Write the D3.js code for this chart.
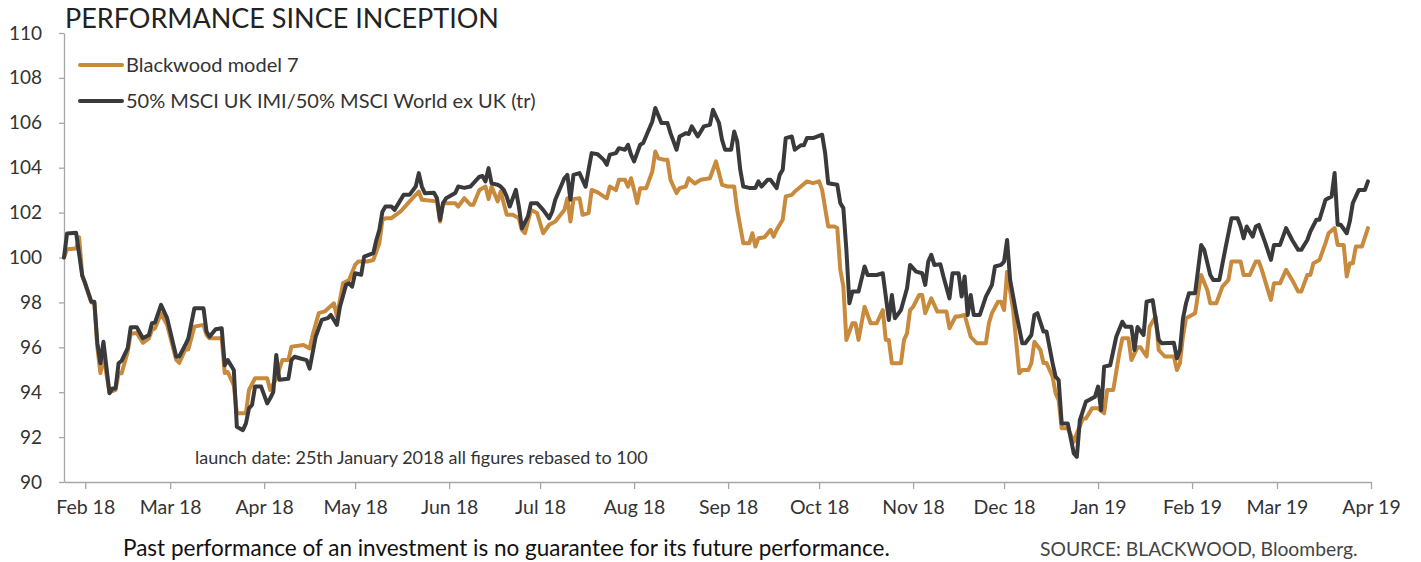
<!DOCTYPE html>
<html>
<head>
<meta charset="utf-8">
<script src="https://cdn.jsdelivr.net/npm/d3@7"></script>
<style>
  html, body { margin: 0; padding: 0; background: #fff; }
  svg { display: block; font-family: Lato, "Open Sans", sans-serif; }
</style>
</head>
<body>
<svg id="chart" width="1421" height="562"></svg>
<script>
const titleText = "PERFORMANCE SINCE INCEPTION";
const seriesNames = ["Blackwood model 7", "50% MSCI UK IMI/50% MSCI World ex UK (tr)"];
const launchDate = "2018-01-25";
const axisStart = "2018-01-25";
const axisEnd = "2019-04-01";
const yTicks = [90, 92, 94, 96, 98, 100, 102, 104, 106, 108, 110];
const noteText = "launch date: 25th January 2018 all figures rebased to 100";
const disclaimerText = "Past performance of an investment is no guarantee for its future performance.";
const sourceText = "SOURCE:  BLACKWOOD, Bloomberg.";

// days since launch, and value
const indexDays = [0,1,4,6,7,9,10,11,12,13,15,16,17,18,19,21,22,24,26,28,29,30,32,34,37,38,40,41,43,46,47,48,50,52,53,54,56,57,59,60,61,62,63,65,67,68,69,70,71,74,75,76,78,80,81,83,84,85,87,88,90,91,93,94,95,96,98,99,102,103,104,105,106,108,109,112,114,116,117,118,119,122,123,124,125,126,129,130,132,134,137,138,139,140,141,143,144,145,146,147,149,150,151,153,154,156,158,160,161,162,165,166,167,168,170,172,173,174,176,178,179,180,182,183,185,186,187,188,190,191,194,195,197,199,200,202,203,205,206,207,209,211,213,214,216,217,218,220,221,222,223,224,226,228,229,230,232,233,235,236,237,238,240,241,243,244,245,247,250,251,252,255,256,257,258,259,260,262,264,265,268,270,271,272,273,274,276,278,279,281,283,284,285,286,287,289,290,292,293,295,296,297,298,299,300,302,304,306,307,309,310,311,312,314,316,317,319,320,321,323,324,326,327,328,329,331,333,334,335,337,338,340,341,342,343,345,347,349,350,352,353,354,356,357,359,361,362,366,367,368,369,370,371,373,375,376,378,379,381,383,385,387,388,389,390,392,393,394,396,398,399,401,403,405,407,408,410,411,413,414,416,418,419,420,421,423,424,425,427,429,430];
const indexValues = [100,101.07,101.1,99.2,98.85,98.03,98.03,96.18,95.29,96.25,93.95,94.17,94.17,95.29,95.4,95.96,96.89,96.89,96.4,96.55,97.07,97.1,97.89,97.3,95.59,95.59,96.1,96.4,97.74,97.74,96.7,96.47,96.8,96.85,95.2,95.43,94.99,92.46,92.31,92.61,93.28,93.43,94.25,94.25,93.5,93.73,94.0,95.66,94.55,94.6,95.43,95.58,95.5,95.43,95.05,96.47,96.85,97.22,97.3,97.44,97.0,97.81,98.78,98.85,98.7,99.3,99.23,100.04,100.19,100.78,101.23,102.04,102.27,102.27,102.12,102.79,102.8,103.16,103.76,103.16,102.86,102.88,102.64,101.68,102.42,102.64,102.87,103.16,103.1,103.16,103.6,103.63,103.39,103.98,103.3,103.24,103.16,103.01,102.71,102.27,103.01,102.27,101.3,101.83,102.42,102.42,102.12,101.75,102.05,102.57,103.53,103.68,102.57,103.68,103.76,103.16,103.91,104.65,104.6,104.35,104.13,104.58,104.65,104.87,104.8,105.02,104.58,104.28,105.02,105.1,106.06,106.66,105.99,105.99,105.54,104.8,105.39,105.54,105.5,105.84,105.39,105.84,105.91,106.58,105.99,105.24,104.8,104.8,105.61,105.17,103.91,103.16,103.1,103.1,103.39,103.16,103.46,103.46,103.09,103.68,103.91,105.32,105.39,104.8,105.0,105.0,105.32,105.32,105.47,104.65,103.31,103.24,102.42,102.2,100.34,97.96,98.48,98.48,99.6,99.22,99.22,99.3,98.26,97.22,98.33,97.29,97.66,98.63,99.67,99.37,99.3,98.78,99.82,100.12,99.67,99.7,99.15,98.18,99.3,99.3,98.26,99.15,97.44,98.33,97.44,97.44,98.26,98.78,99.6,99.67,99.82,100.78,99.0,97.52,96.18,96.18,96.55,97.44,97.52,96.7,96.7,95.29,94.69,94.54,92.61,92.61,91.27,91.12,92.76,93.58,93.65,93.8,94.25,93.2,95.14,95.2,96.47,97.14,96.92,96.92,95.88,96.9,96.55,98.03,98.1,96.33,96.18,96.2,95.51,95.88,97.29,97.96,98.41,98.41,100.56,100.34,99.22,99.0,99.0,100.41,101.75,101.75,101.38,100.86,101.38,100.93,101.38,101.45,100.71,99.89,100.56,100.56,101.31,100.78,100.34,100.34,100.78,101.16,101.68,101.68,102.57,102.72,103.76,101.46,101.46,101.08,101.6,102.42,103.01,103.01,103.39];

const blackwoodDays = [0,1,4,5,6,7,9,10,11,12,13,15,17,18,19,21,22,24,26,28,29,30,32,34,37,38,40,41,43,46,47,48,52,53,54,56,57,60,61,63,67,68,70,72,74,75,79,81,82,84,86,89,90,92,94,96,97,100,102,104,105,106,108,111,114,117,118,123,124,125,129,130,132,134,135,137,139,140,141,143,144,146,148,150,151,152,154,156,158,160,162,165,166,167,168,170,171,173,174,176,178,179,180,182,183,185,186,187,188,189,190,192,194,195,196,198,199,200,202,203,205,206,208,210,213,215,216,217,219,221,222,224,226,227,228,229,231,233,234,235,237,238,240,241,243,245,247,249,250,252,254,255,256,257,258,260,261,262,264,266,268,270,271,272,273,276,277,278,279,280,282,283,284,286,288,291,292,294,295,297,299,301,304,305,306,308,309,310,311,313,315,316,318,319,320,322,323,324,326,327,328,329,331,333,334,336,337,339,341,343,344,346,348,349,351,352,354,355,357,358,360,361,363,366,367,368,369,370,373,374,375,377,378,380,382,384,385,388,389,391,393,394,395,397,398,399,401,403,405,407,408,410,411,412,414,416,417,419,420,422,423,424,425,426,428,430];
const blackwoodValues = [100,100.37,100.4,100.9,99.2,98.8,98.0,98.0,96.0,94.85,95.6,94.0,94.1,94.84,94.84,95.8,96.6,96.64,96.2,96.4,96.77,96.85,97.5,97.0,95.45,95.3,95.9,95.9,96.92,97.0,96.55,96.4,96.4,94.85,94.9,94.3,93.06,93.06,94.1,94.62,94.62,94.1,94.62,95.43,95.43,96.03,96.1,95.95,96.55,97.52,97.6,97.96,97.37,98.85,99.0,99.67,99.82,99.82,99.89,100.64,101.67,101.75,101.75,102.05,102.5,102.94,102.57,102.5,101.6,102.42,102.42,102.27,102.64,102.35,102.35,103.01,103.16,102.6,103.16,102.5,102.94,101.9,101.9,101.75,101.23,101.08,102.12,101.98,101.08,101.46,101.6,102.12,102.64,101.6,102.6,102.64,101.9,101.98,103.01,102.9,102.72,102.64,103.16,103.0,103.46,103.46,103.16,103.53,103.01,102.42,103.09,103.09,103.83,104.72,104.42,104.35,104.35,103.46,102.87,103.09,103.16,103.53,103.3,103.46,103.53,104.28,103.76,103.24,103.16,103.16,102.12,100.64,100.64,101.08,100.49,100.86,100.9,101.23,100.93,101.23,101.68,102.72,102.79,102.94,103.16,103.39,103.31,103.39,103.01,101.38,101.38,101.31,99.45,98.7,96.33,97.07,97.07,96.33,97.81,97.07,97.07,97.66,96.33,96.33,95.29,95.29,96.33,96.62,97.66,97.8,98.33,98.33,97.52,98.18,97.59,97.59,96.85,97.37,97.37,97.44,96.47,96.18,96.18,97.07,97.52,98.03,98.03,97.66,99.37,97.66,94.84,94.99,94.99,95.29,96.25,95.88,95.3,95.3,94.69,93.95,93.65,92.39,92.39,91.79,92.16,92.83,92.83,93.28,93.28,93.06,94.1,94.1,95.73,96.4,96.4,95.43,96.0,96.0,95.59,96.92,97.37,95.88,95.59,95.59,94.99,95.3,96.5,97.29,97.52,98.41,99.22,98.55,97.96,97.96,98.7,99.0,99.82,99.82,99.22,99.22,99.82,99.82,99.45,98.55,98.11,98.85,98.85,99.45,99.0,98.48,98.48,99.22,99.22,99.74,99.89,100.64,101.08,101.31,100.56,100.56,99.15,99.74,99.74,100.49,100.49,101.31];

const colors = ["#C88A3C", "#3A3A3C"];

const svg = d3.select("#chart");

const launch = new Date(launchDate + "T00:00:00Z");
const toDate = d => d3.utcDay.offset(launch, d);

const x = d3.scaleUtc()
  .domain([new Date(axisStart + "T00:00:00Z"), new Date(axisEnd + "T00:00:00Z")])
  .range([64, 1371]);
const y = d3.scaleLinear().domain([90, 110]).range([482, 33]);

const axisColor = "#a6a6a6";

// Y axis
const gy = svg.append("g").attr("transform", "translate(64,0)")
  .call(d3.axisLeft(y).tickValues(yTicks).tickSize(5).tickSizeOuter(0).tickPadding(17).tickFormat(d3.format("d")));
gy.select(".domain").attr("stroke", axisColor).attr("stroke-width", 1.3);
gy.selectAll(".tick line").attr("stroke", axisColor).attr("stroke-width", 1.3);
gy.selectAll(".tick text").attr("font-family", "Lato, sans-serif").attr("font-size", 19).attr("fill", "#333");

// X axis
const gx = svg.append("g").attr("transform", "translate(0,482)")
  .call(d3.axisBottom(x).ticks(d3.utcMonth.every(1)).tickSize(7).tickSizeOuter(0).tickPadding(11)
    .tickFormat(d3.utcFormat("%b %y")));
gx.select(".domain").attr("stroke", axisColor).attr("stroke-width", 1.3);
gx.selectAll(".tick line").attr("stroke", axisColor).attr("stroke-width", 1.3);
gx.selectAll(".tick text").attr("font-family", "Lato, sans-serif").attr("font-size", 19.5).attr("fill", "#333");
gx.selectAll(".tick").filter(d => d < new Date("2018-02-01T00:00:00Z")).remove();

// Lines
const line = d3.line().x(d => x(d.date)).y(d => y(d.value)).curve(d3.curveLinear);
const series = [
  { name: seriesNames[0], color: colors[0], data: blackwoodDays.map((d, i) => ({ date: toDate(d), value: blackwoodValues[i] })) },
  { name: seriesNames[1], color: colors[1], data: indexDays.map((d, i) => ({ date: toDate(d), value: indexValues[i] })) }
];
svg.append("g").selectAll("path").data(series).join("path")
  .attr("d", s => line(s.data))
  .attr("fill", "none")
  .attr("stroke", s => s.color)
  .attr("stroke-width", 4)
  .attr("stroke-linejoin", "round")
  .attr("stroke-linecap", "round");

// Title
svg.append("text").attr("x", 65).attr("y", 28)
  .attr("font-size", 27).attr("fill", "#222").text(titleText);

// Legend
const legend = svg.append("g");
series.forEach((s, i) => {
  const ly = 65 + i * 36;
  legend.append("line").attr("x1", 80).attr("x2", 122).attr("y1", ly).attr("y2", ly)
    .attr("stroke", s.color).attr("stroke-width", 4).attr("stroke-linecap", "round");
  legend.append("text").attr("x", 126).attr("y", ly).attr("dy", "0.35em")
    .attr("font-size", 20).attr("fill", "#333").text(s.name);
});

// Note
svg.append("text").attr("x", 195).attr("y", 464)
  .attr("font-size", 18).attr("fill", "#333").text(noteText);

// Footer
svg.append("text").attr("x", 123).attr("y", 556)
  .attr("font-size", 22.5).attr("fill", "#111").text(disclaimerText);
svg.append("text").attr("x", 1040).attr("y", 556)
  .attr("font-size", 19.3).attr("fill", "#444").text(sourceText);
</script>
</body>
</html>
